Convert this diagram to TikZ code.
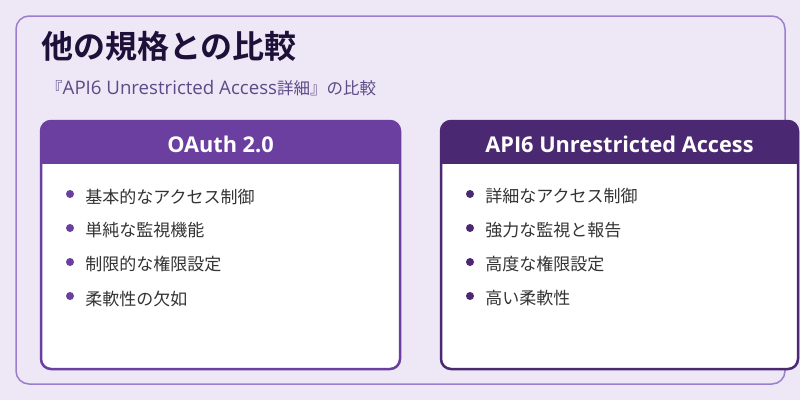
\documentclass[tikz,border=0pt]{standalone}
\usepackage{fontspec}
\setmainfont{Noto Sans CJK JP}[BoldFont={Noto Sans CJK JP Bold}]
\newfontfamily\latinfont{Open Sans}[Scale=1.06,BoldFont={Open Sans Bold}]
\usetikzlibrary{positioning}

\definecolor{pagebg}{HTML}{EDE7F6}
\definecolor{frameline}{HTML}{9C7FCC}
\definecolor{oauthc}{HTML}{6B3FA0}
\definecolor{apisixc}{HTML}{4A2872}
\definecolor{titlec}{HTML}{1E1038}
\definecolor{subc}{HTML}{5E4A88}
\definecolor{itemc}{HTML}{333333}

\tikzset{
  headtext/.style={text=white,font=\latinfont\bfseries\fontsize{20.5}{24}\selectfont,inner sep=0pt},
  itemtext/.style={anchor=west,text=itemc,font=\fontsize{17}{20}\selectfont,inner sep=0pt},
  bulletdot/.style={circle,fill=#1,inner sep=0pt,minimum size=8pt},
}

\begin{document}
\begin{tikzpicture}[x=1pt,y=-1pt]

\useasboundingbox (0,0) rectangle (800,400);
\fill[pagebg] (0,0) rectangle (800,400);

%outer frame
\draw[frameline,line width=1.5pt,rounded corners=13pt] (16,16) rectangle (785,384);

%title and subtitle
\node[anchor=west,inner sep=0pt,text=titlec,font=\bfseries\fontsize{32}{36}\selectfont] (title) at (41,46) {他の規格との比較};
\node[anchor=west,inner sep=0pt,text=subc,font=\fontsize{16.5}{20}\selectfont] (subtitle) at (46,88) {『{\latinfont\fontsize{17.6}{20}\selectfont API6 Unrestricted Access}詳細』の比較};

%left card
\fill[white,rounded corners=10pt] (41,121) rectangle (400,369);
\begin{scope}
  \clip[rounded corners=10pt] (41,121) rectangle (400,369);
  \fill[oauthc] (41,121) rectangle (400,164);
\end{scope}
\draw[oauthc,line width=2.5pt,rounded corners=10pt] (41,121) rectangle (400,369);
\node[headtext] (oauth) at (220.5,144) {OAuth 2.0};

\foreach \txt [count=\i] in {基本的なアクセス制御,単純な監視機能,制限的な権限設定,柔軟性の欠如} {
  \node[bulletdot=oauthc] (lb\i) at (70,{160+34*\i}) {};
  \node[itemtext,right=11pt of lb\i,yshift=-2.5pt] (lt\i) {\txt};
}

%right card
\fill[white,rounded corners=10pt] (441,121) rectangle (798,369);
\begin{scope}
  \clip[rounded corners=10pt] (441,121) rectangle (798,369);
  \fill[apisixc] (441,121) rectangle (798,164);
\end{scope}
\draw[apisixc,line width=2.5pt,rounded corners=10pt] (441,121) rectangle (798,369);
\node[headtext] (apisix) at (619.5,144) {API6 Unrestricted Access};

\foreach \txt [count=\i] in {詳細なアクセス制御,強力な監視と報告,高度な権限設定,高い柔軟性} {
  \node[bulletdot=apisixc] (rb\i) at (470,{160+34*\i}) {};
  \node[itemtext,right=11pt of rb\i,yshift=-2.5pt] (rt\i) {\txt};
}

\end{tikzpicture}
\end{document}
